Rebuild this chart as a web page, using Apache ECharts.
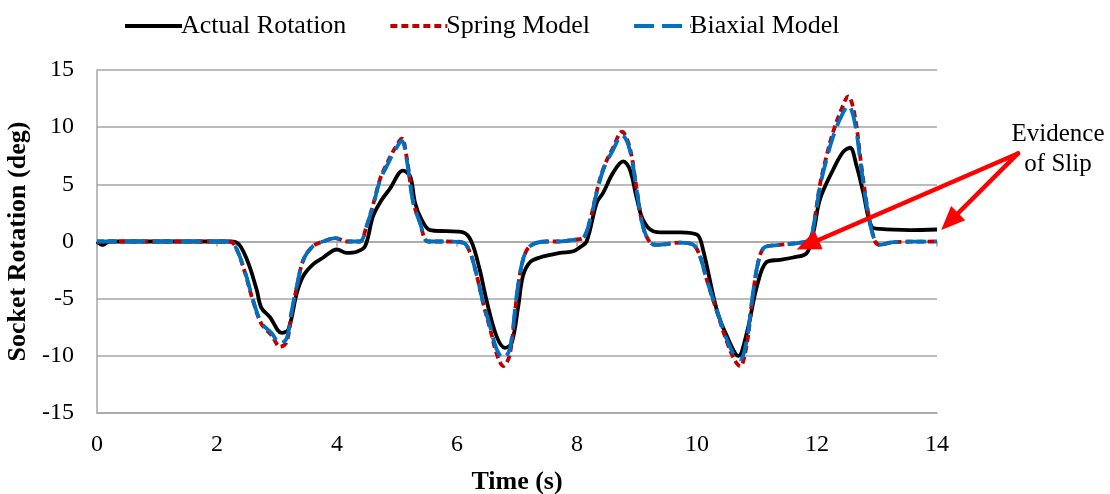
<!DOCTYPE html>
<html>
<head>
<meta charset="utf-8">
<script src="https://cdn.jsdelivr.net/npm/echarts@6/dist/echarts.min.js"></script>
<style>html,body{margin:0;padding:0;background:#fff;}#c{width:1110px;height:494px;}</style>
</head>
<body>
<div id="c"></div>
<script>
const seriesNames = ['Actual Rotation', 'Spring Model', 'Biaxial Model'];
const xTicks = [0, 2, 4, 6, 8, 10, 12, 14];
const yTicks = [-15, -10, -5, 0, 5, 10, 15];

const actualT = [0,0.1,0.2,1.0,2.0,2.17,2.33,2.5,2.66,2.74,2.88,3.08,3.19,3.33,3.44,3.6,3.77,4.0,4.16,4.33,4.47,4.6,4.74,4.88,5.1,5.22,5.3,5.41,5.55,5.83,6.1,6.24,6.38,6.49,6.66,6.8,6.91,7.02,7.1,7.22,7.38,7.72,7.94,8.05,8.16,8.33,8.44,8.6,8.77,8.88,9.0,9.1,9.27,9.44,9.72,10.0,10.1,10.33,10.5,10.69,10.83,11.0,11.16,11.38,11.6,11.83,11.94,12.05,12.27,12.43,12.55,12.66,12.77,12.91,13.05,13.55,14.0];
const actualY = [0,-0.3,0,0,0,0,-0.1,-1.6,-4.2,-5.8,-6.6,-8.0,-7.7,-4.5,-3.0,-2.0,-1.4,-0.7,-1.0,-0.9,-0.4,2.2,3.6,4.6,6.2,5.7,3.4,1.9,1.0,0.9,0.8,0,-2.5,-5.1,-8.3,-9.3,-8.9,-5.7,-3.0,-1.8,-1.4,-1.0,-0.85,-0.5,0,3.4,4.3,6.0,7.0,6.3,3.7,1.9,0.9,0.8,0.8,0.6,-0.7,-6.0,-8.3,-10.0,-8.0,-3.9,-1.8,-1.6,-1.4,-1.0,0.8,3.7,6.3,7.8,8.2,6.6,4.3,1.3,1.1,1.0,1.05];

const modelT = [0,1,2,2.22,2.33,2.47,2.6,2.74,2.91,3.05,3.16,3.24,3.33,3.44,3.6,3.77,3.97,4.16,4.38,4.49,4.6,4.72,4.83,4.97,5.08,5.16,5.27,5.38,5.52,5.83,6.1,6.22,6.33,6.44,6.55,6.66,6.77,6.88,7.0,7.1,7.22,7.49,7.72,7.94,8.1,8.22,8.33,8.44,8.6,8.75,8.88,9.0,9.1,9.22,9.33,9.72,9.94,10.05,10.16,10.33,10.5,10.63,10.72,10.83,10.91,11.02,11.13,11.38,11.72,11.88,11.97,12.05,12.16,12.27,12.41,12.52,12.63,12.74,12.86,12.97,13.05,13.27,14.0];
const springY = [0,0,0,0,-0.7,-2.8,-5.2,-7.2,-8.2,-9.2,-8.8,-6.4,-4.0,-1.6,-0.4,0,0.3,0,0,1.3,3.2,5.5,6.8,8.2,9.0,7.4,3.5,1.7,0,0,-0.1,-1.0,-3.0,-5.5,-7.6,-9.8,-10.9,-9.9,-4.7,-1.6,-0.4,0,0,0.15,0.3,1.9,4.4,6.4,8.2,9.6,8.2,4.4,1.3,-0.1,-0.3,-0.1,-0.3,-1.3,-3.3,-6.1,-8.8,-10.4,-10.9,-9.0,-5.6,-1.8,-0.5,-0.3,-0.1,0.2,2.3,5.0,7.5,9.6,11.6,12.7,11.0,6.6,2.3,0,-0.3,-0.05,0];
const biaxialY = [0,0,0,0,-0.7,-2.7,-5.1,-7.1,-8.0,-8.9,-8.5,-6.2,-3.9,-1.6,-0.4,0,0.3,0,0,1.3,3.1,5.4,6.6,8.0,8.8,7.2,3.4,1.7,0,0,-0.1,-1.0,-3.0,-5.4,-7.4,-9.4,-10.2,-9.4,-4.5,-1.6,-0.4,0,0,0.15,0.3,1.9,4.3,6.3,8.0,9.3,8.0,4.3,1.3,-0.1,-0.3,-0.1,-0.3,-1.3,-3.3,-6.0,-8.6,-10.0,-10.3,-8.6,-5.4,-1.8,-0.5,-0.3,-0.1,0.2,2.2,4.8,7.2,9.2,11.0,11.9,10.4,6.3,2.2,0,-0.3,-0.05,0];

// annotation (data coordinates)
const noteText = ['Evidence', 'of Slip'];
const arrowStart = [15.35, 7.7];
const arrowTips = [[11.66, -0.7], [14.07, 1.0]];

const pair = (t, y) => t.map((v, i) => [v, y[i]]);
const SERIF = '"Liberation Serif", "Times New Roman", serif';

const chart = echarts.init(document.getElementById('c'), null, {renderer: 'canvas'});
const option = {
  animation: false,
  backgroundColor: '#fff',
  textStyle: {fontFamily: SERIF},
  grid: {left: 97, right: 173, top: 70, bottom: 81, containLabel: false, outerBoundsMode: 'none'},
  legend: {
    top: 8, left: 118,
    itemWidth: 57, itemHeight: 14, itemGap: 42,
    itemStyle: {opacity: 0},
    lineStyle: {width: 4},
    textStyle: {fontFamily: SERIF, fontSize: 26, color: '#000', padding: [0, 0, 0, -6]},
    data: seriesNames
  },
  xAxis: [{
    type: 'value', min: 0, max: 14, interval: 2,
    name: 'Time (s)', nameLocation: 'middle', nameGap: 56,
    nameTextStyle: {fontFamily: SERIF, fontSize: 26, fontWeight: 'bold', color: '#000'},
    axisLine: {show: true, onZero: false, lineStyle: {color: '#a6a6a6', width: 1.5}},
    axisTick: {show: false},
    axisLabel: {fontFamily: SERIF, fontSize: 24, color: '#000', margin: 20},
    splitLine: {show: false}
  }, {
    type: 'value', min: 0, max: 14, interval: 2, position: 'bottom',
    axisLine: {show: true, onZero: true, lineStyle: {color: '#a6a6a6', width: 1.5}},
    axisTick: {show: true, length: 5, lineStyle: {color: '#a6a6a6', width: 1.5}},
    axisLabel: {show: false},
    splitLine: {show: false}
  }],
  yAxis: {
    type: 'value', min: -15, max: 15, interval: 5,
    name: 'Socket Rotation (deg)', nameLocation: 'middle', nameGap: 55, nameRotate: 90,
    nameTextStyle: {fontFamily: SERIF, fontSize: 26, fontWeight: 'bold', color: '#000'},
    axisLine: {show: true, lineStyle: {color: '#a6a6a6', width: 1.5}},
    axisTick: {show: false},
    axisLabel: {fontFamily: SERIF, fontSize: 24, color: '#000', margin: 23},
    splitLine: {show: true, lineStyle: {color: '#a6a6a6', width: 1.5}}
  },
  series: [{
    name: seriesNames[0], type: 'line', data: pair(actualT, actualY),
    smooth: 0.35, symbol: 'none', z: 2,
    lineStyle: {color: '#000', width: 3.8},
    itemStyle: {color: '#000'}
  }, {
    name: seriesNames[1], type: 'line', data: pair(modelT, springY),
    smooth: 0.35, symbol: 'none', z: 3,
    lineStyle: {color: '#c00000', width: 3.8, type: [7, 4]},
    itemStyle: {color: '#c00000'}
  }, {
    name: seriesNames[2], type: 'line', data: pair(modelT, biaxialY),
    smooth: 0.35, symbol: 'none', z: 4,
    lineStyle: {color: '#0070c0', width: 3.8, type: [20, 8]},
    itemStyle: {color: '#0070c0'}
  }]
};
chart.setOption(option);

// annotation arrows
const s = chart.convertToPixel({gridIndex: 0}, arrowStart);
const g = [];
arrowTips.forEach(tip => {
  const p = chart.convertToPixel({gridIndex: 0}, tip);
  const dx = p[0] - s[0], dy = p[1] - s[1];
  const len = Math.hypot(dx, dy);
  const ux = dx / len, uy = dy / len, nx = -uy, ny = ux;
  const L = 24, W = 20;
  const bx = p[0] - ux * L, by = p[1] - uy * L;
  g.push({type: 'line', z: 100, shape: {x1: s[0], y1: s[1], x2: bx + ux * 2, y2: by + uy * 2},
    style: {stroke: '#ff0000', lineWidth: 4.5, lineCap: 'round'}});
  g.push({type: 'polygon', z: 100, shape: {points: [[p[0], p[1]], [bx + nx * W / 2, by + ny * W / 2], [bx - nx * W / 2, by - ny * W / 2]]},
    style: {fill: '#ff0000'}});
});
g.push({type: 'text', z: 100, x: 1058, y: 119,
  style: {text: noteText.join('\n'), fontFamily: SERIF, fontSize: 25, fill: '#000', align: 'center', verticalAlign: 'top', lineHeight: 30}});
chart.setOption({graphic: g});
</script>
</body>
</html>
